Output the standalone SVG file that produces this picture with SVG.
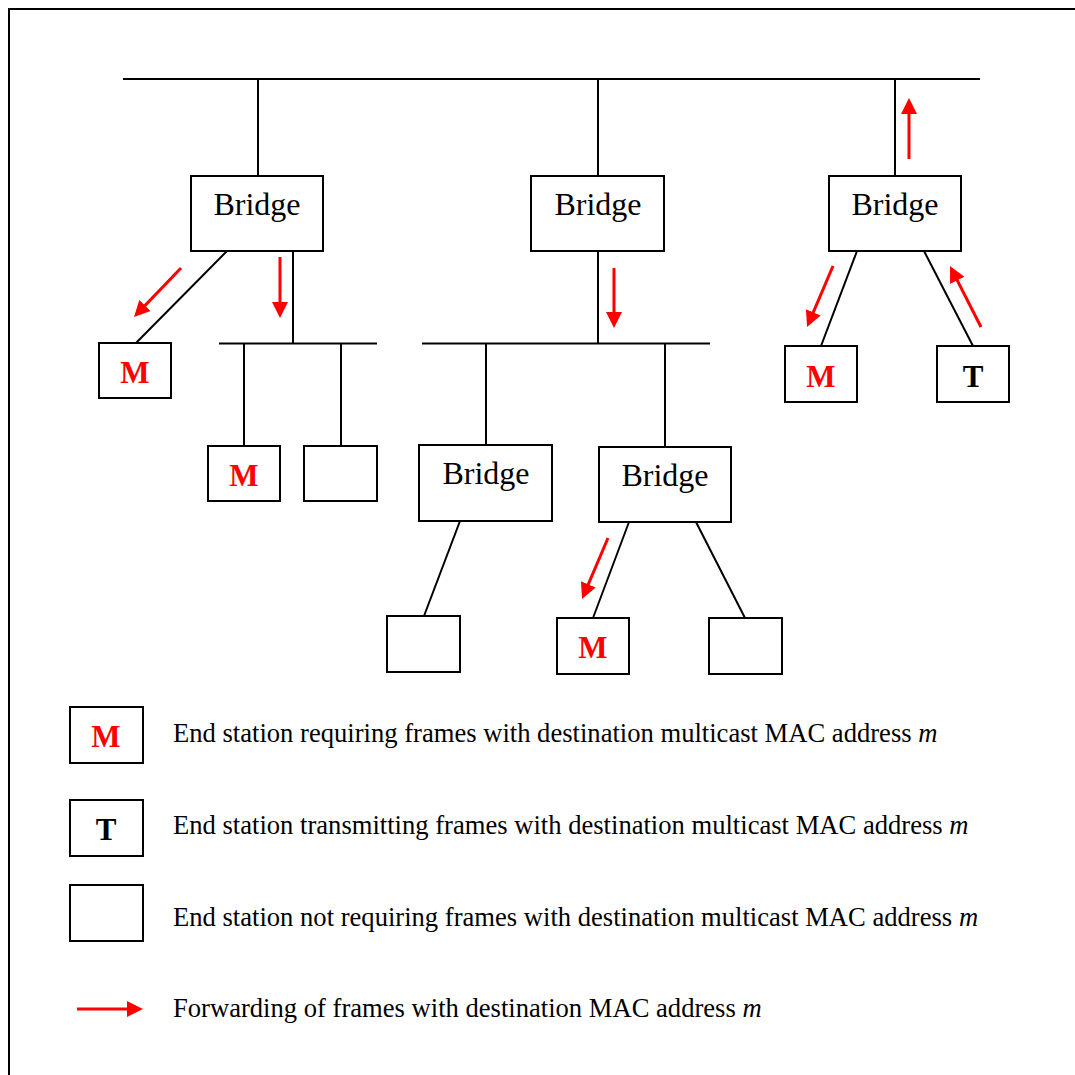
<svg xmlns="http://www.w3.org/2000/svg" width="1075" height="1075" viewBox="0 0 1075 1075">
  <style>
    .ln { stroke: #000; stroke-width: 2; fill: none; }
    .box { fill: #fff; stroke: #000; stroke-width: 2; }
    .lbl { font-family: "Liberation Serif", "Times New Roman", serif; font-size: 32px; fill: #000; text-anchor: middle; }
    .st { font-family: "Liberation Serif", "Times New Roman", serif; font-size: 31px; font-weight: bold; text-anchor: middle; }
    .red { fill: #ff0000; }
    .blk { fill: #000; }
    .fw { stroke: #ff0000; stroke-width: 3; fill: none; marker-end: url(#head); }
    .leg { font-family: "Liberation Serif", "Times New Roman", serif; font-size: 26.6px; fill: #000; }
  </style>
  <defs>
    <marker id="head" markerUnits="userSpaceOnUse" markerWidth="17" markerHeight="17" refX="12" refY="8" orient="auto">
      <path d="M0,0 L16,8 L0,16 z" fill="#ff0000"/>
    </marker>
  </defs>

  <rect x="0" y="0" width="1075" height="1075" fill="#fff"/>
  <!-- frame -->
  <rect x="9" y="9" width="1090" height="1090" fill="none" stroke="#000" stroke-width="2"/>

  <!-- LAN segments and links -->
  <g id="connectors">
    <line class="ln" x1="123" y1="79" x2="980" y2="79"/>
    <line class="ln" x1="258" y1="79" x2="258" y2="176"/>
    <line class="ln" x1="598" y1="79" x2="598" y2="176"/>
    <line class="ln" x1="895" y1="79" x2="895" y2="176"/>

    <line class="ln" x1="227" y1="251" x2="136" y2="343"/>
    <line class="ln" x1="293" y1="251" x2="293" y2="343"/>
    <line class="ln" x1="219" y1="343.5" x2="377" y2="343.5"/>
    <line class="ln" x1="244" y1="343.5" x2="244" y2="446"/>
    <line class="ln" x1="341" y1="343.5" x2="341" y2="446"/>

    <line class="ln" x1="598" y1="251" x2="598" y2="343.5"/>
    <line class="ln" x1="422" y1="343.5" x2="710" y2="343.5"/>
    <line class="ln" x1="486" y1="343.5" x2="486" y2="445"/>
    <line class="ln" x1="665" y1="343.5" x2="665" y2="447"/>

    <line class="ln" x1="460" y1="521" x2="424" y2="616"/>
    <line class="ln" x1="629" y1="522" x2="593" y2="618"/>
    <line class="ln" x1="696" y1="522" x2="745" y2="618"/>

    <line class="ln" x1="857" y1="251" x2="821" y2="346"/>
    <line class="ln" x1="924" y1="251" x2="973" y2="346"/>
  </g>

  <!-- forwarding arrows -->
  <g id="forwarding">
    <line class="fw" x1="181" y1="268" x2="136.8" y2="314.1"/>
    <line class="fw" x1="280" y1="257" x2="280" y2="314"/>
    <line class="fw" x1="614" y1="268" x2="614" y2="324"/>
    <line class="fw" x1="909" y1="159" x2="909" y2="102"/>
    <line class="fw" x1="833" y1="266" x2="808.6" y2="323.3"/>
    <line class="fw" x1="981" y1="327" x2="951.8" y2="269.6"/>
    <line class="fw" x1="608" y1="538" x2="583.6" y2="595.3"/>
  </g>

  <!-- bridges -->
  <g id="bridge1"><rect class="box" x="191" y="176" width="132" height="75"/><text class="lbl" x="257" y="215">Bridge</text></g>
  <g id="bridge2"><rect class="box" x="531" y="176" width="133" height="75"/><text class="lbl" x="598" y="215">Bridge</text></g>
  <g id="bridge3"><rect class="box" x="829" y="176" width="132" height="75"/><text class="lbl" x="895" y="215">Bridge</text></g>
  <g id="bridge4"><rect class="box" x="419" y="445" width="133" height="76"/><text class="lbl" x="486" y="484">Bridge</text></g>
  <g id="bridge5"><rect class="box" x="599" y="447" width="132" height="75"/><text class="lbl" x="665" y="486">Bridge</text></g>

  <!-- end stations -->
  <g id="stationM1"><rect class="box" x="99" y="343" width="72" height="55"/><text class="st red" x="135" y="383">M</text></g>
  <g id="stationM2"><rect class="box" x="208" y="446" width="72" height="55"/><text class="st red" x="244" y="486">M</text></g>
  <g id="station3"><rect class="box" x="304" y="446" width="73" height="55"/></g>
  <g id="station4"><rect class="box" x="387" y="616" width="73" height="56"/></g>
  <g id="stationM3"><rect class="box" x="557" y="618" width="72" height="56"/><text class="st red" x="593" y="658">M</text></g>
  <g id="station6"><rect class="box" x="709" y="618" width="73" height="56"/></g>
  <g id="stationM4"><rect class="box" x="785" y="346" width="72" height="56"/><text class="st red" x="821" y="387">M</text></g>
  <g id="stationT"><rect class="box" x="937" y="346" width="72" height="56"/><text class="st blk" x="973" y="387">T</text></g>

  <!-- legend -->
  <g id="legend">
    <rect class="box" x="70" y="707" width="73" height="56"/>
    <text class="st red" x="106" y="747">M</text>
    <text class="leg" x="173" y="742">End station requiring frames with destination multicast MAC address <tspan font-style="italic">m</tspan></text>

    <rect class="box" x="70" y="800" width="73" height="56"/>
    <text class="st blk" x="106" y="840">T</text>
    <text class="leg" x="173" y="834">End station transmitting frames with destination multicast MAC address <tspan font-style="italic">m</tspan></text>

    <rect class="box" x="70" y="885" width="73" height="56"/>
    <text class="leg" x="173" y="926">End station not requiring frames with destination multicast MAC address <tspan font-style="italic">m</tspan></text>

    <line class="fw" x1="77" y1="1009" x2="139" y2="1009"/>
    <text class="leg" x="173" y="1017">Forwarding of frames with destination MAC address <tspan font-style="italic">m</tspan></text>
  </g>
</svg>
